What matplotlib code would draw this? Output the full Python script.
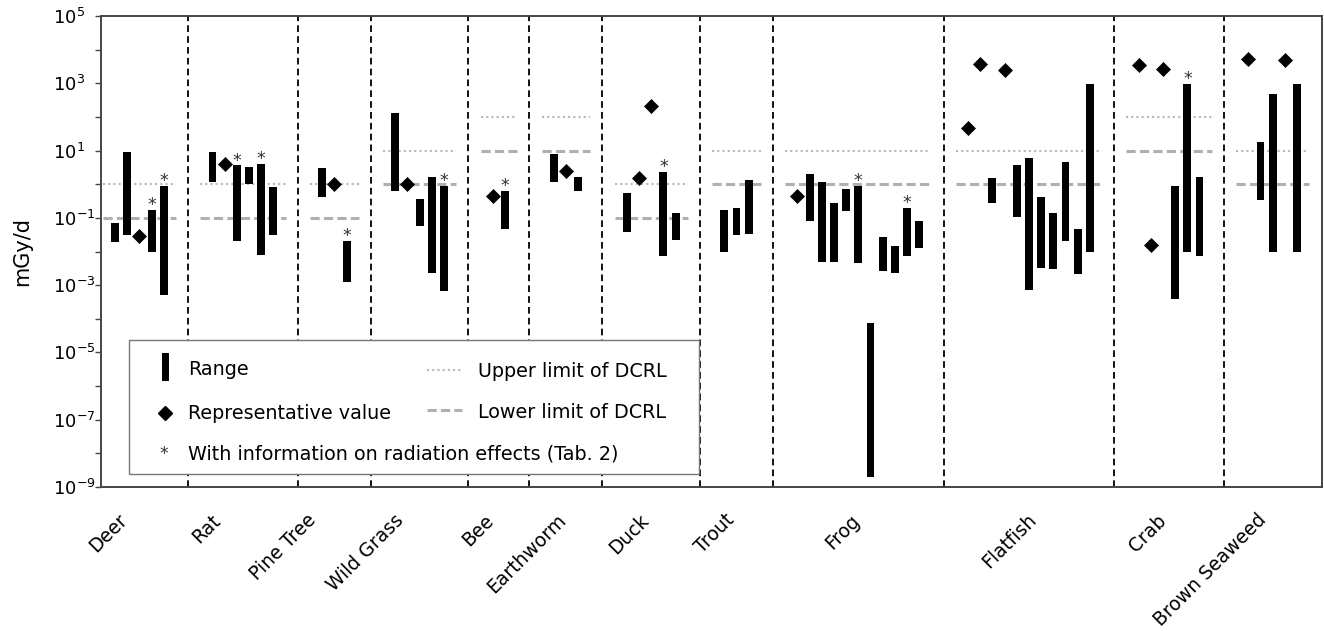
import numpy as np
import matplotlib
matplotlib.use("Agg")
import matplotlib.pyplot as plt
from matplotlib.patches import Rectangle
from matplotlib.lines import Line2D

# species groups, left to right
species = ["Deer", "Rat", "Pine Tree", "Wild Grass", "Bee", "Earthworm", "Duck",
           "Trout", "Frog", "Flatfish", "Crab", "Brown Seaweed"]

# order of marks inside each group: R = range bar, D = representative value
item_kinds = ["RRDRR", "RDRRRR", "RDR", "RDRRR", "DR", "RDR", "RDDRR", "RRR",
              "DRRRRRRRRRR", "DDRDRRRRRRR", "DDDRRR", "DRRDR"]

# range bars (mGy/d), in drawing order
range_high = [0.072, 9.1, 0.17, 0.89,
              9.1, 3.6, 3.2, 3.9, 0.81,
              3.0, 0.021,
              135, 0.37, 1.6, 0.89,
              0.62,
              8.1, 1.6,
              0.56, 2.3, 0.14,
              0.17, 0.20, 1.35,
              2.0, 1.17, 0.28, 0.74, 0.87, 7.5e-5, 0.027, 0.015, 0.195, 0.081,
              1.58, 3.6, 6.2, 0.43, 0.143, 4.5, 0.048, 980,
              0.91, 960, 1.6,
              17.7, 480, 980]
range_low = [0.019, 0.032, 0.0095, 0.0005,
             1.15, 0.020, 1.0, 0.008, 0.032,
             0.43, 0.0012,
             0.61, 0.057, 0.0023, 0.00067,
             0.048,
             1.15, 0.62,
             0.038, 0.0072, 0.022,
             0.010, 0.032, 0.034,
             0.083, 0.0049, 0.0049, 0.155, 0.0044, 2.0e-9, 0.0026, 0.0023, 0.0072, 0.0126,
             0.27, 0.104, 0.0007, 0.0033, 0.0030, 0.020, 0.0021, 0.0099,
             0.0004, 0.010, 0.0072,
             0.34, 0.010, 0.010]
# 1 = with information on radiation effects (Tab. 2)
range_star = [0, 0, 1, 1,
              0, 1, 0, 1, 0,
              0, 1,
              0, 0, 0, 1,
              1,
              0, 0,
              0, 1, 0,
              0, 0, 0,
              0, 0, 0, 0, 1, 0, 0, 0, 1, 0,
              0, 0, 0, 0, 0, 0, 0, 0,
              0, 1, 0,
              0, 0, 0]

# representative values (mGy/d), in drawing order
rep_values = [0.028, 3.9, 1.0, 1.0, 0.45, 2.4, 1.5, 213, 0.44,
              48, 3700, 2500, 3550, 0.0155, 2570, 5200, 4800]

# DCRL band per species
dcrl_upper = [1, 1, 1, 10, 100, 100, 1, 10, 10, 10, 100, 10]
dcrl_lower = [0.1, 0.1, 0.1, 1, 10, 10, 0.1, 1, 1, 1, 10, 1]

# where the rotated labels end, relative to the group centre (slots)
label_shift = [-0.7, -1.5, -1.2, -1.0, -0.1, 0.3, 0.1, 0.1, 0.4, 0.9, 0.1, -0.2]

plt.rcParams["font.family"] = "DejaVu Sans"
plt.rcParams["mathtext.fontset"] = "dejavusans"

fig = plt.figure(figsize=(13.24, 6.31), dpi=100)
ax = fig.add_axes([101 / 1324, 1 - 487 / 631, 1221 / 1324, 471 / 631])

bar_x, dia_x, seps, centers = [], [], [], []
pos = 0
for g, kinds in enumerate(item_kinds):
    xs = np.arange(pos, pos + len(kinds))
    for x, k in zip(xs, kinds):
        (bar_x if k == "R" else dia_x).append(x)
    ax.plot([xs[0] - 1, xs[-1] + 1], [dcrl_upper[g]] * 2, color="#b8b8b8",
            lw=1.5, ls=(0, (1, 1.5)), zorder=2)
    ax.plot([xs[0] - 1, xs[-1] + 1], [dcrl_lower[g]] * 2, color="#b0b0b0",
            lw=2.2, ls=(0, (3, 1.4)), zorder=2)
    centers.append(xs.mean() + label_shift[g])
    if g < len(item_kinds) - 1:
        seps.append(xs[-1] + 2)
    pos = xs[-1] + 4

hi = np.array(range_high)
lo = np.array(range_low)
ax.bar(bar_x, hi - lo, bottom=lo, width=0.65, color="black", zorder=3)
ax.plot(dia_x, rep_values, "D", ms=7.2, color="black", mew=0.5, zorder=4)

for x, h, s in zip(bar_x, hi, range_star):
    if s:
        ax.annotate("*", (x, h), xytext=(0, -3), textcoords="offset points",
                    ha="center", va="bottom", fontsize=12.5, color="#333333", zorder=4)

for s in seps:
    ax.axvline(s, color="black", lw=1.3, ls=(0, (3.7, 2.3)), zorder=1)

ax.set_yscale("log")
ax.set_ylim(1e-9, 1e5)
ax.set_xlim(-1.15, 99.05)

major = [10.0 ** e for e in range(-9, 6, 2)]
ax.set_yticks(major)
ax.set_yticklabels([f"$10^{{{e}}}$" for e in range(-9, 6, 2)])
ax.set_yticks([10.0 ** e for e in range(-8, 5, 2)], minor=True)
ax.yaxis.set_minor_formatter(plt.NullFormatter())
ax.tick_params(axis="y", which="both", direction="out", length=4.5, width=1,
               color="#444444", labelsize=13, pad=30)
for lab in ax.get_yticklabels():
    lab.set_horizontalalignment("left")

ax.set_xticks(centers)
ax.set_xticklabels(species, rotation=45, ha="right", fontsize=13.5)
ax.tick_params(axis="x", length=0, pad=17)

ax.set_ylabel("mGy/d", fontsize=15)
ax.yaxis.set_label_coords(-0.056, 0.5)

for sp in ax.spines.values():
    sp.set_color("#444444")
    sp.set_linewidth(1.4)

# legend drawn by hand so the long third entry can run under the 2nd column
def fx(px):
    return (px - 101) / 1221


def fy(py):
    return (487 - py) / 471


T = ax.transAxes
ax.add_patch(Rectangle((fx(129.3), fy(474)), fx(699.3) - fx(129.3), fy(340) - fy(474),
                       transform=T, facecolor="white", edgecolor="#777777", lw=1.0,
                       zorder=5))
ax.add_patch(Rectangle((fx(161.7), fy(380.7)), fx(169.3) - fx(161.7), fy(353) - fy(380.7),
                       transform=T, facecolor="black", edgecolor="none", zorder=6))
ax.add_line(Line2D([fx(164.6)], [fy(413)], marker="D", ms=7.2, color="black",
                   transform=T, zorder=6))
ax.text(fx(163.5), fy(454), "*", transform=T, ha="center", va="center",
        fontsize=12.5, color="#333333", zorder=6)
ax.add_line(Line2D([fx(426.7), fx(461.7)], [fy(370)] * 2, color="#b8b8b8", lw=1.5,
                   ls=(0, (1, 1.5)), transform=T, zorder=6))
ax.add_line(Line2D([fx(426.7), fx(461.7)], [fy(410)] * 2, color="#b0b0b0", lw=2.2,
                   ls=(0, (3, 1.4)), transform=T, zorder=6))

leg_fs = 13.8
ax.text(fx(187.7), fy(375), "Range", transform=T, va="baseline", fontsize=leg_fs, zorder=6)
ax.text(fx(187.7), fy(419), "Representative value", transform=T, va="baseline",
        fontsize=leg_fs, zorder=6)
ax.text(fx(187.7), fy(460), "With information on radiation effects (Tab. 2)",
        transform=T, va="baseline", fontsize=leg_fs, zorder=6)
ax.text(fx(478.3), fy(377), "Upper limit of DCRL", transform=T, va="baseline",
        fontsize=leg_fs, zorder=6)
ax.text(fx(478.3), fy(418), "Lower limit of DCRL", transform=T, va="baseline",
        fontsize=leg_fs, zorder=6)

fig.savefig("out.png", dpi=100)
